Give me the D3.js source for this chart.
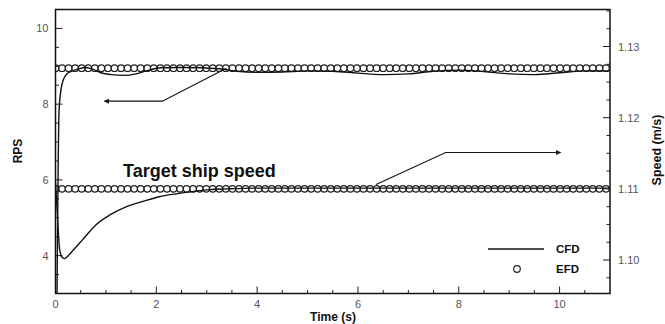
<!DOCTYPE html>
<html>
<head>
<meta charset="utf-8">
<script src="https://cdn.jsdelivr.net/npm/d3@7/dist/d3.min.js"></script>
<style>
  html, body { margin: 0; padding: 0; background: #fff; }
  svg { display: block; font-family: "Liberation Sans", Arial, Helvetica, sans-serif; }
</style>
</head>
<body>
<svg id="chart" width="665" height="324"></svg>
<script>
// CFD propeller revolutions (RPS) over time
const cfdRpsTime = [0.03, 0.04, 0.055, 0.07, 0.1, 0.14, 0.2, 0.3, 0.45, 0.6, 0.75, 0.9, 1.1, 1.35, 1.6, 1.85, 2.1, 2.5, 2.9, 3.3, 3.6, 4.0, 4.5, 5.0, 5.5, 6.0, 6.5, 7.0, 7.5, 8.0, 8.5, 9.0, 9.5, 10.0, 10.5, 11.0];
const cfdRps     = [3.0, 4.6, 6.6, 7.8, 8.3, 8.58, 8.76, 8.86, 8.93, 8.97, 8.92, 8.83, 8.78, 8.76, 8.8, 8.9, 8.96, 8.97, 8.96, 8.93, 8.87, 8.84, 8.85, 8.88, 8.87, 8.82, 8.78, 8.8, 8.87, 8.9, 8.86, 8.8, 8.78, 8.83, 8.88, 8.88];

// CFD ship speed (m/s) over time
const cfdSpeedTime = [0, 0.04, 0.08, 0.12, 0.18, 0.25, 0.34, 0.53, 0.81, 1.07, 1.41, 1.72, 2.06, 2.4, 2.71, 3.05, 3.4, 4.0, 5.0, 6.0, 7.0, 8.0, 9.0, 10.0, 11.0];
const cfdSpeed     = [1.1109, 1.106, 1.1016, 1.1005, 1.1002, 1.1006, 1.1013, 1.1028, 1.105, 1.1063, 1.1075, 1.1082, 1.1089, 1.1093, 1.1096, 1.1099, 1.11, 1.1101, 1.1101, 1.1101, 1.1101, 1.1101, 1.1101, 1.1101, 1.1101];

// EFD targets: constant RPS and target ship speed, sampled every 0.13 s
const efdStep = 0.13;
const efdTime = d3.range(0, 11 + 1e-9, efdStep);
const efdRps = 8.95;
const efdSpeed = 1.11;

// Axis ticks
const xTicks = [0, 2, 4, 6, 8, 10];
const rpsTicks = [4, 6, 8, 10];
const speedTicks = [1.10, 1.11, 1.12, 1.13];

// Annotation arrows (data coordinates)
const rpsArrow = [[3.39, 8.95], [2.12, 8.08], [0.97, 8.08]];
const speedArrow = [[6.36, 1.1106], [7.74, 1.1151], [10.02, 1.1151]];

const svg = d3.select("#chart");
const L = 55.5, R = 610, T = 9.5, B = 293.5;

const x = d3.scaleLinear().domain([0, 11]).range([L, R]);
const yL = d3.scaleLinear().domain([3, 10.5]).range([B, T]);
const yR = d3.scaleLinear().domain([1.0953, 1.1352]).range([B, T]);

const labelColor = "#555";

// Arrow marker
svg.append("defs").append("marker")
  .attr("id", "arrowhead")
  .attr("viewBox", "0 0 10 10")
  .attr("refX", 9).attr("refY", 5)
  .attr("markerWidth", 8).attr("markerHeight", 5)
  .attr("markerUnits", "userSpaceOnUse")
  .attr("orient", "auto")
  .append("path").attr("d", "M0,0 L10,5 L0,10 Z").attr("fill", "#111");

const plot = svg.append("g");

// Tick marks (inward), majors and minors
function tickMarks(g, values, pos, orient, len) {
  values.forEach(v => {
    const p = pos(v);
    let l;
    if (orient === "bottom") l = [p, B, p, B - len];
    else if (orient === "left") l = [L, p, L + len, p];
    else l = [R, p, R - len, p];
    g.append("line").attr("x1", l[0]).attr("y1", l[1]).attr("x2", l[2]).attr("y2", l[3])
      .attr("stroke", "#222").attr("stroke-width", 1);
  });
}
const ticksG = plot.append("g");
tickMarks(ticksG, xTicks, x, "bottom", 7);
tickMarks(ticksG, d3.range(0.5, 11, 1), x, "bottom", 3.5);
tickMarks(ticksG, d3.range(1, 11, 2), x, "bottom", 3.5);
tickMarks(ticksG, rpsTicks, yL, "left", 7);
tickMarks(ticksG, d3.range(3.5, 10.5, 0.5).filter(v => Math.abs(v % 2) > 1e-9), yL, "left", 3.5);
tickMarks(ticksG, speedTicks, yR, "right", 7);
tickMarks(ticksG, d3.range(1.0975, 1.135, 0.0025).filter(v => !speedTicks.some(s => Math.abs(s - v) < 1e-7)), yR, "right", 3.5);

// Tick labels
const tl = plot.append("g").attr("font-size", 11).attr("fill", labelColor);
xTicks.forEach(v => tl.append("text").attr("x", x(v)).attr("y", B + 14).attr("text-anchor", "middle").text(d3.format("d")(v)));
rpsTicks.forEach(v => tl.append("text").attr("x", L - 7).attr("y", yL(v) + 4).attr("text-anchor", "end").text(v));
speedTicks.forEach(v => tl.append("text").attr("x", R + 8).attr("y", yR(v) + 4).attr("text-anchor", "start").text(d3.format(".2f")(v)));

// Axis titles
svg.append("text").attr("x", 333).attr("y", 321).attr("text-anchor", "middle")
  .attr("font-size", 12).attr("font-weight", "bold").attr("fill", "#111").text("Time (s)");
svg.append("text").attr("transform", "translate(22,151) rotate(-90)").attr("text-anchor", "middle")
  .attr("font-size", 12).attr("font-weight", "bold").attr("fill", "#111").text("RPS");
svg.append("text").attr("transform", "translate(661,150) rotate(-90)").attr("text-anchor", "middle")
  .attr("font-size", 12.5).attr("font-weight", "bold").attr("fill", "#111").text("Speed (m/s)");

// Clip to plot frame
svg.append("clipPath").attr("id", "clip").append("rect")
  .attr("x", L).attr("y", T).attr("width", R - L).attr("height", B - T);
const data = plot.append("g").attr("clip-path", "url(#clip)");

// EFD circles
data.append("g").selectAll("circle.rps").data(efdTime).join("circle")
  .attr("cx", d => x(d)).attr("cy", yL(efdRps)).attr("r", 3.3)
  .attr("fill", "none").attr("stroke", "#222").attr("stroke-width", 1.2);
data.append("g").selectAll("circle.spd").data(efdTime).join("circle")
  .attr("cx", d => x(d)).attr("cy", yR(efdSpeed)).attr("r", 3.3)
  .attr("fill", "none").attr("stroke", "#222").attr("stroke-width", 1.2);

// CFD curves
const lineL = d3.line().x(d => x(d[0])).y(d => yL(d[1])).curve(d3.curveMonotoneX);
const lineR = d3.line().x(d => x(d[0])).y(d => yR(d[1])).curve(d3.curveMonotoneX);
data.append("path").datum(d3.zip(cfdRpsTime, cfdRps)).attr("d", lineL)
  .attr("fill", "none").attr("stroke", "#111").attr("stroke-width", 1.4);
data.append("path").datum(d3.zip(cfdSpeedTime, cfdSpeed)).attr("d", lineR)
  .attr("fill", "none").attr("stroke", "#111").attr("stroke-width", 1.4);

// Annotation arrows
plot.append("path").datum(rpsArrow)
  .attr("d", d3.line().x(d => x(d[0])).y(d => yL(d[1])))
  .attr("fill", "none").attr("stroke", "#111").attr("stroke-width", 1.1)
  .attr("marker-end", "url(#arrowhead)");
plot.append("path").datum(speedArrow)
  .attr("d", d3.line().x(d => x(d[0])).y(d => yR(d[1])))
  .attr("fill", "none").attr("stroke", "#111").attr("stroke-width", 1.1)
  .attr("marker-end", "url(#arrowhead)");

// Annotation text
plot.append("text").attr("x", 123).attr("y", 177)
  .attr("font-size", 18).attr("font-weight", "bold").attr("fill", "#111").text("Target ship speed");

// Legend
const lg = plot.append("g");
lg.append("line").attr("x1", 488).attr("x2", 544).attr("y1", 249).attr("y2", 249)
  .attr("stroke", "#111").attr("stroke-width", 1.5);
lg.append("text").attr("x", 556).attr("y", 253).attr("font-size", 11.5).attr("font-weight", "bold").attr("fill", "#111").text("CFD");
lg.append("circle").attr("cx", 517).attr("cy", 269).attr("r", 3.3)
  .attr("fill", "none").attr("stroke", "#222").attr("stroke-width", 1.2);
lg.append("text").attr("x", 556).attr("y", 273).attr("font-size", 11.5).attr("font-weight", "bold").attr("fill", "#111").text("EFD");

// Frame
plot.append("rect").attr("x", L).attr("y", T).attr("width", R - L).attr("height", B - T)
  .attr("fill", "none").attr("stroke", "#111").attr("stroke-width", 1.5);
</script>
</body>
</html>
